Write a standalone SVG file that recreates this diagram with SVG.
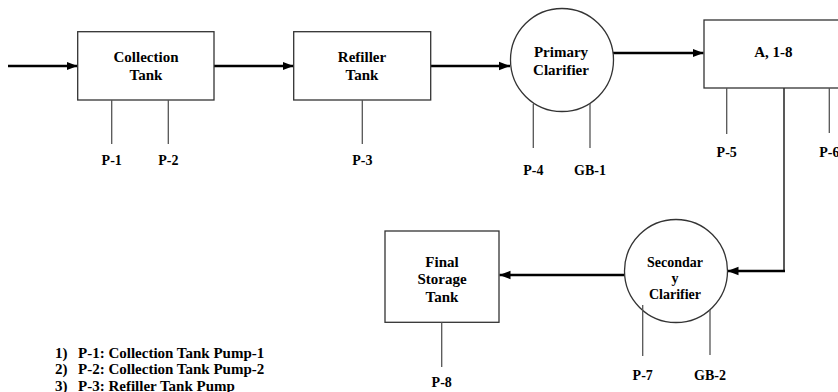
<svg xmlns="http://www.w3.org/2000/svg" width="838" height="392" viewBox="0 0 838 392">
<defs>
<style>
.box{fill:#fff;stroke:#333;stroke-width:1.3}
.pl{stroke:#555;stroke-width:1.3;fill:none}
.fl{stroke:#000;stroke-width:2.5;fill:none}
.t{font-family:"Liberation Serif","Times New Roman",serif;font-weight:bold;font-size:15px;fill:#000;text-anchor:middle}
.s{font-size:14px}
.lg{font-family:"Liberation Serif","Times New Roman",serif;font-weight:bold;font-size:15px;fill:#000}
</style>
<marker id="ah" markerUnits="userSpaceOnUse" markerWidth="11" markerHeight="10" viewBox="0 0 11 10" refX="11" refY="5" orient="auto">
<path d="M0,0.8 L11,5 L0,9.2 Z" fill="#000"/>
</marker>
</defs>
<rect width="838" height="392" fill="#fff"/>
<g id="connectors">
<line class="fl" x1="8" y1="66" x2="77.5" y2="66" marker-end="url(#ah)"/>
<line class="fl" x1="214" y1="66" x2="293.5" y2="66" marker-end="url(#ah)"/>
<line class="fl" x1="431" y1="66" x2="510" y2="66" marker-end="url(#ah)"/>
<line class="fl" x1="613" y1="53" x2="703.5" y2="53" marker-end="url(#ah)"/>
<line x1="784" y1="88" x2="784" y2="271" stroke="#222" stroke-width="1.5"/>
<line class="fl" x1="785" y1="271" x2="727.5" y2="271" marker-end="url(#ah)"/>
<line class="fl" x1="624" y1="275" x2="499.5" y2="275" marker-end="url(#ah)"/>
</g>
<g id="collection-tank">
<rect class="box" x="77.7" y="31.7" width="136.3" height="68.3"/>
<text class="t" x="146" y="62">Collection</text>
<text class="t" x="146" y="80">Tank</text>
<line class="pl" x1="111.7" y1="100" x2="111.7" y2="144"/>
<line class="pl" x1="168.3" y1="100" x2="168.3" y2="144"/>
<text class="t s" x="111.7" y="165">P-1</text>
<text class="t s" x="168.3" y="165">P-2</text>
</g>
<g id="refiller-tank">
<rect class="box" x="293.7" y="31.7" width="137" height="68.3"/>
<text class="t" x="362" y="62">Refiller</text>
<text class="t" x="362" y="79.5">Tank</text>
<line class="pl" x1="362.3" y1="100" x2="362.3" y2="144"/>
<text class="t s" x="362.3" y="165">P-3</text>
</g>
<g id="primary-clarifier">
<circle class="box" cx="562" cy="60" r="51.5"/>
<text class="t" x="561" y="57">Primary</text>
<text class="t" x="561" y="75">Clarifier</text>
<line class="pl" x1="533.3" y1="104" x2="533.3" y2="148"/>
<line class="pl" x1="590" y1="104" x2="590" y2="148"/>
<text class="t s" x="533.3" y="175">P-4</text>
<text class="t s" x="590" y="175">GB-1</text>
</g>
<g id="aeration-tank">
<rect class="box" x="704" y="20" width="140" height="68"/>
<text class="t" x="773.3" y="57">A, 1-8</text>
<line class="pl" x1="726.7" y1="88" x2="726.7" y2="134"/>
<line class="pl" x1="829.3" y1="88" x2="829.3" y2="133"/>
<text class="t s" x="726.7" y="157">P-5</text>
<text class="t s" x="829.3" y="157">P-6</text>
</g>
<g id="secondary-clarifier">
<circle class="box" cx="676" cy="271" r="51.5"/>
<text class="t s" x="675" y="266.5">Secondar</text>
<text class="t s" x="675" y="282.5">y</text>
<text class="t s" x="675" y="298.5">Clarifier</text>
<line class="pl" x1="642.7" y1="305" x2="642.7" y2="356"/>
<line class="pl" x1="710" y1="310" x2="710" y2="355"/>
<text class="t s" x="642.7" y="380">P-7</text>
<text class="t s" x="710" y="380">GB-2</text>
</g>
<g id="final-storage-tank">
<rect class="box" x="385" y="231" width="114" height="91.3"/>
<text class="t" x="442" y="266.5">Final</text>
<text class="t" x="442" y="284">Storage</text>
<text class="t" x="442" y="301.5">Tank</text>
<line class="pl" x1="441.7" y1="322.3" x2="441.7" y2="367"/>
<text class="t s" x="441.7" y="386.5">P-8</text>
</g>
<g id="legend">
<text class="lg" x="55" y="357.5">1)</text>
<text class="lg" x="78" y="357.5">P-1: Collection Tank Pump-1</text>
<text class="lg" x="55" y="374">2)</text>
<text class="lg" x="78" y="374">P-2: Collection Tank Pump-2</text>
<text class="lg" x="55" y="390.5">3)</text>
<text class="lg" x="78" y="390.5">P-3: Refiller Tank Pump</text>
</g>
</svg>
